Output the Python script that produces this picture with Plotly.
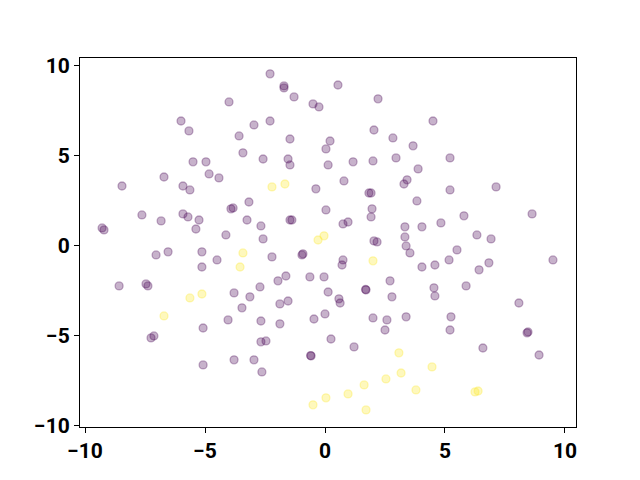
import plotly.graph_objects as go

purple_x = [-2.29, -1.71, -1.71, 0.54, -1.29, 2.21, -4.0, -0.5, -0.25, 4.5,
            -6.0, -2.29, -2.96, -5.67, 2.04, 2.83, -3.58, -1.46, 0.21, 3.67,
            -3.42, 0.04, 1.17, 2.0, 2.96, 5.21, -2.58, -1.54, -1.46, -4.96,
            -5.5, 0.13, 3.88, -4.83, -6.71, -4.42, 0.79, 3.42, 3.29, -5.63,
            -8.46, -5.92, 7.13, 1.83, 1.92, 3.83, 5.21, -3.83, -3.92, -0.38,
            -3.17, -7.63, -5.92, -5.71, -6.83, -3.25, -5.25, -1.46, -1.38, 0.04,
            1.96, 1.92, 0.96, 0.75, 5.79, 4.83, 4.04, 3.33, 3.33, 3.38,
            3.54, -2.67, -4.13, -5.38, 6.33, 6.92, -2.58, 2.04, 2.17, -9.29,
            -9.21, 8.63, -6.54, -7.04, -0.92, -0.96, -5.13, -4.5, -5.13, -2.21,
            0.75, 0.71, -1.96, -1.63, -0.63, -0.04, 2.71, -2.71, 0.13, 1.71,
            1.69, -3.13, -1.88, -1.54, 0.58, 0.63, 2.79, -3.46, -3.79, -8.58,
            -7.46, -7.38, 5.5, 5.17, 4.04, 4.58, 6.83, 6.42, 9.5, 4.54,
            4.58, 5.88, 8.08, -4.04, -5.08, -7.25, -7.13, -5.08, -3.79, -2.67,
            -1.88, -0.46, 0.0, 2.0, 2.58, 2.5, 3.38, -2.67, -2.46, 0.25,
            1.21, -0.58, -0.6, -2.96, -2.63, 5.25, 5.21, 8.46, 8.42, 6.58,
            8.92]
purple_y = [9.56, 8.89, 8.78, 8.94, 8.28, 8.17, 8.0, 7.89, 7.72, 6.94,
            6.94, 6.94, 6.72, 6.39, 6.44, 6.0, 6.11, 5.94, 5.83, 5.56,
            5.17, 5.39, 4.67, 4.72, 4.89, 4.89, 4.83, 4.83, 4.5, 4.67,
            4.67, 4.5, 4.28, 4.0, 3.83, 3.78, 3.61, 3.67, 3.44, 3.11,
            3.33, 3.33, 3.28, 2.94, 2.94, 2.5, 3.11, 2.11, 2.06, 3.17,
            2.44, 1.72, 1.78, 1.61, 1.39, 1.44, 1.44, 1.44, 1.44, 2.0,
            2.06, 1.61, 1.33, 1.22, 1.67, 1.28, 1.06, 1.06, 0.5, 0.0,
            -0.39, 1.11, 0.61, 0.94, 0.61, 0.39, 0.39, 0.28, 0.22, 1.0,
            0.89, 1.78, -0.33, -0.5, -0.44, -0.5, -0.33, -0.78, -1.17, -0.61,
            -0.78, -1.06, -1.94, -1.67, -1.72, -1.72, -1.94, -2.28, -2.56, -2.44,
            -2.42, -2.83, -3.22, -3.06, -2.94, -3.17, -2.83, -3.44, -2.61, -2.22,
            -2.11, -2.22, -0.22, -0.78, -1.17, -1.06, -0.94, -1.33, -0.78, -2.33,
            -2.78, -2.22, -3.17, -4.11, -4.56, -5.11, -5.0, -6.61, -6.33, -4.17,
            -4.33, -4.06, -3.78, -4.0, -4.11, -4.67, -3.94, -5.33, -5.28, -5.17,
            -5.61, -6.11, -6.09, -6.33, -7.0, -3.94, -4.67, -4.78, -4.83, -5.67,
            -6.06]

yellow_x = [-2.21, -1.67, -0.04, -0.29, -3.42, -3.54, 2.0, -5.63, -5.13, -6.71,
            3.08, 3.17, 2.54, 1.63, 0.96, 0.04, -0.5, 1.71, 4.46, 3.79,
            6.25, 6.38]
yellow_y = [3.28, 3.44, 0.56, 0.33, -0.39, -1.17, -0.83, -2.89, -2.67, -3.89,
            -5.94, -7.06, -7.39, -7.72, -8.22, -8.44, -8.83, -9.11, -6.72, -8.0,
            -8.11, -8.06]

tick_vals = [-10, -5, 0, 5, 10]
tick_text = ["\u221210", "\u22125", "0", "5", "10"]

PURPLE = "rgba(68,1,84,0.3)"
YELLOW = "rgba(253,231,37,0.3)"

fig = go.Figure()
fig.add_trace(go.Scatter(
    x=purple_x, y=purple_y, mode="markers",
    marker=dict(size=8, color=PURPLE, line=dict(color=PURPLE, width=1.3)),
    showlegend=False, hoverinfo="skip"))
fig.add_trace(go.Scatter(
    x=yellow_x, y=yellow_y, mode="markers",
    marker=dict(size=8, color=YELLOW, line=dict(color=YELLOW, width=1.3)),
    showlegend=False, hoverinfo="skip"))

axis_common = dict(
    showgrid=False, zeroline=False, showline=True, linecolor="black", linewidth=1,
    mirror=True, ticks="outside", ticklen=5, tickwidth=1, tickcolor="black",
    tickvals=tick_vals, ticktext=tick_text,
    tickfont=dict(family="Roboto", size=21, color="black", weight="bold"),
)

fig.update_layout(
    width=640, height=480,
    margin=dict(l=72, r=72, t=50, b=61),
    paper_bgcolor="white", plot_bgcolor="white",
    xaxis=dict(range=[-10.21, 10.46], automargin=False, **axis_common),
    yaxis=dict(range=[-10.06, 10.44], automargin=False, **axis_common),
)

fig.write_html("out.html")
